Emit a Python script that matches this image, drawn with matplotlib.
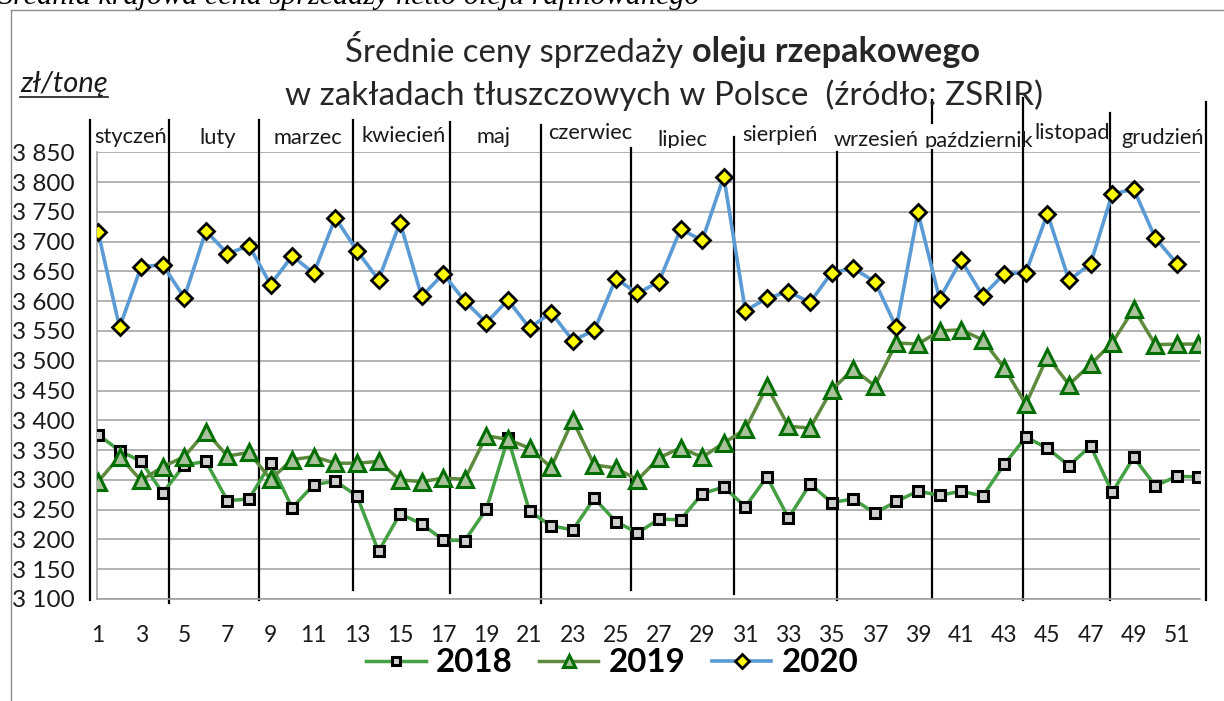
import matplotlib
matplotlib.use("Agg")
import matplotlib.pyplot as plt
from matplotlib import transforms
from matplotlib.transforms import Bbox
from matplotlib.lines import Line2D

# ---------------- data ----------------
weeks = list(range(1, 53))
price_2018 = [3376, 3349, 3331, 3278, 3325, 3331, 3265, 3268, 3328, 3253,
              3292, 3298, 3273, 3180, 3243, 3226, 3199, 3198, 3251, 3370,
              3247, 3223, 3216, 3269, 3230, 3211, 3234, 3233, 3277, 3288,
              3255, 3305, 3236, 3293, 3262, 3268, 3244, 3264, 3281, 3274,
              3281, 3273, 3326, 3372, 3353, 3324, 3357, 3279, 3338, 3290,
              3306, 3305]
price_2019 = [3297, 3339, 3299, 3322, 3339, 3381, 3340, 3346, 3301, 3334,
              3339, 3328, 3328, 3331, 3300, 3297, 3303, 3301, 3374, 3368,
              3353, 3321, 3400, 3325, 3320, 3300, 3337, 3354, 3338, 3362,
              3385, 3457, 3390, 3387, 3451, 3486, 3458, 3530, 3528, 3550,
              3552, 3535, 3488, 3427, 3507, 3460, 3494, 3530, 3587, 3527,
              3528, 3528]
price_2020 = [3717, 3556, 3658, 3661, 3606, 3718, 3680, 3693, 3628, 3676,
              3647, 3740, 3685, 3636, 3732, 3608, 3646, 3600, 3564, 3602,
              3555, 3581, 3534, 3551, 3638, 3613, 3633, 3721, 3702, 3809,
              3584, 3605, 3616, 3598, 3648, 3655, 3633, 3556, 3749, 3604,
              3669, 3609, 3646, 3648, 3747, 3635, 3663, 3780, 3788, 3706,
              3663]
series_labels = ["2018", "2019", "2020"]
months = ["styczeń", "luty", "marzec", "kwiecień", "maj", "czerwiec",
          "lipiec", "sierpień", "wrzesień", "październik", "listopad", "grudzień"]
y_ticks = list(range(3100, 3851, 50))
x_ticks = list(range(1, 52, 2))

# ---------------- layout ----------------
W, H = 1224, 701
FONT = ["Lato", "DejaVu Sans"]
fig = plt.figure(figsize=(W / 100, H / 100), dpi=100)
fig.patch.set_facecolor("white")


def fx(px):
    return px / W


def fy(py):
    return 1 - py / H


renderer = fig.canvas.get_renderer()


def fit_width(t, width):
    w = t.get_window_extent(renderer).width
    t.set_fontsize(t.get_fontsize() * width / w)
    return t.get_fontsize()


ax = fig.add_axes([fx(97.3), fy(599), fx(1200) - fx(97.3), fy(152.3) - fy(599)])
ax.set_xlim(0.968, 52.07)
ax.set_ylim(3100, 3850)
ax.set_facecolor("white")

ax.set_yticks(y_ticks)
ax.set_yticklabels([f"{v // 1000} {v % 1000:03d}" for v in y_ticks])
ax.set_xticks(x_ticks)
ax.set_xticklabels([str(v) for v in x_ticks])
ax.yaxis.grid(True, color="#a6a6a6", lw=1.2)
ax.set_axisbelow(True)
ax.tick_params(axis="both", length=0, colors="#1a1a1a")
ax.tick_params(axis="y", pad=16, labelsize=17.5)
ax.tick_params(axis="x", pad=19, labelsize=16.5)
for lab in ax.get_xticklabels() + ax.get_yticklabels():
    lab.set_family(FONT)
for s in ["top", "right"]:
    ax.spines[s].set_visible(False)
for s in ["left", "bottom"]:
    ax.spines[s].set_color("#a0a0a0")
    ax.spines[s].set_linewidth(1.2)

l18, = ax.plot(weeks[:len(price_2018)], price_2018, color="#43a043", lw=2.5,
               marker="s", ms=7.5, mfc="#cfcfcf", mec="black", mew=2.2, zorder=3)
l19, = ax.plot(weeks[:len(price_2019)], price_2019, color="#5e8a3e", lw=2.5,
               marker="^", ms=11, mfc="#a9c29c", mec="#006e00", mew=2.2, zorder=4)
l20, = ax.plot(weeks[:len(price_2020)], price_2020, color="#5b9bd5", lw=2.6,
               marker="D", ms=8, mfc="#ffff00", mec="black", mew=2.0, zorder=5)

# month separators (x in weeks, y in pixels from top)
sep_segments = [
    (0.63, 120, 600), (4.27, 120, 603), (8.46, 120, 600), (12.82, 120, 590),
    (17.31, 122, 593), (21.53, 125, 603), (25.7, 148, 590), (30.47, 137, 594),
    (35.23, 152, 600), (39.63, 100, 123), (39.63, 150, 598), (43.86, 98, 600),
    (47.9, 113, 600), (52.37, 102, 600),
]
blend = transforms.blended_transform_factory(ax.transData, fig.transFigure)
for x, top, bot in sep_segments:
    ax.add_line(Line2D([x, x], [fy(top), fy(bot)], transform=blend,
                       color="black", lw=1.6, clip_on=False, zorder=2.5))

# month labels
label_x = [2.53, 6.56, 10.73, 15.18, 19.35, 23.8, 28.1, 32.6, 37.05, 41.8, 46.13, 50.35]
label_y = [137, 138, 138, 136, 137, 133, 140, 135, 140, 141, 133, 138]
probe = fig.text(0, 0, "kwiecień", family=FONT, fontsize=16)
msize = fit_width(probe, 85)
probe.remove()
clip = Bbox.from_extents(0, H - 148, W, H)
for name, x, y in zip(months, label_x, label_y):
    t = ax.text(x, fy(y), name, transform=blend, ha="center", va="center",
                family=FONT, fontsize=msize, color="#1a1a1a", zorder=6)
    t.set_clip_on(True)
    t.set_clip_box(clip)

# titles
t1 = fig.text(fx(345), fy(62), "Średnie ceny sprzedaży", ha="left", va="baseline",
              family=FONT, fontsize=24, color="#262626")
fit_width(t1, 683 - 345)
t2 = fig.text(fx(692), fy(62), "oleju rzepakowego", ha="left", va="baseline",
              family=FONT, fontsize=24, weight="bold", color="#262626")
fit_width(t2, 980 - 692)
t3 = fig.text(fx(285), fy(105), "w zakładach tłuszczowych w Polsce  (źródło: ZSRIR)",
              ha="left", va="baseline", family=FONT, fontsize=24, color="#262626")
fit_width(t3, 1045 - 285)

# unit label
tu = fig.text(fx(20), fy(92), "zł/tonę", ha="left", va="baseline", family=FONT,
              style="italic", fontsize=18, color="#1a1a1a")
fit_width(tu, 88)
fig.add_artist(Line2D([fx(20), fx(108)], [fy(97), fy(97)], color="#1a1a1a", lw=1.2))

# cut-off caption above the frame (only its lower part shows, as in the source)
tc = fig.text(fx(-2), fy(4), "Średnia krajowa cena sprzedaży netto oleju rafinowanego",
              ha="left", va="baseline", family=["Liberation Serif", "DejaVu Serif"],
              style="italic", fontsize=20, color="black")
fit_width(tc, 700)

# frame
fig.add_artist(Line2D([fx(11), fx(11)], [fy(10), fy(701)], color="#8c8c8c", lw=1.0))
fig.add_artist(Line2D([fx(11), fx(1224)], [fy(10), fy(10)], color="#8c8c8c", lw=1.0))

# legend
probe = fig.text(0, 0, "2018", family=FONT, weight="bold", fontsize=20)
lsize = fit_width(probe, 77)
probe.remove()
fig.legend([l18, l19, l20], series_labels, loc="center",
           bbox_to_anchor=(fx(612), fy(663)), ncol=3, frameon=False,
           prop=dict(family=FONT, weight="bold", size=lsize),
           handlelength=1.8, handletextpad=0.3, columnspacing=0.8,
           markerscale=0.85)

fig.savefig("out.png", dpi=100)
